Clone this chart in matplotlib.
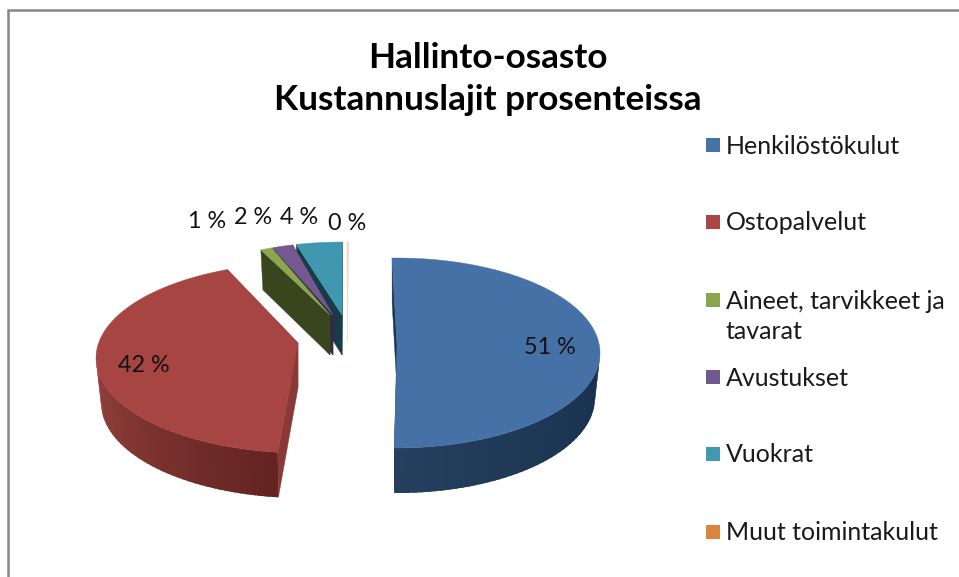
import numpy as np
import matplotlib
matplotlib.use('Agg')
import matplotlib.pyplot as plt
from matplotlib.colors import to_rgb
from matplotlib.patches import Polygon, Rectangle

plt.rcParams['font.family'] = ['Lato', 'DejaVu Sans']

# data
categories = ['Henkilöstökulut', 'Ostopalvelut', 'Aineet, tarvikkeet ja\ntavarat',
              'Avustukset', 'Vuokrat', 'Muut toimintakulut']
values = [50.6, 42.1, 0.9, 1.6, 3.6, 0.1]
title = 'Hallinto-osasto\nKustannuslajit prosenteissa'

# colours
top_colors = ['#4571a7', '#a64541', '#8ba84f', '#75588f', '#3f97b0', '#f6d9ba']
legend_colors = ['#4572a7', '#aa4643', '#89a54e', '#71588f', '#4198af', '#db843d']
cut_colors = ['#1c3450', '#8a3a36', '#38451d', '#352848', '#173b47', '#e6e2dc']
rim_from = ['#16304c', '#95423d', '#38451d', '#352848', '#173b47', '#e6e2dc']
rim_to = ['#263f5f', '#622321', '#38451d', '#352848', '#173b47', '#e6e2dc']

# pie layout in pixels, one entry per slice (exploded + perspective)
centers = [(397, 353), (303, 358), (343, 337), (343, 337), (343, 337), (347, 337)]
apexes = [(397, 345), (298, 343), (330, 315), (333, 315), (342, 315), (347.5, 315)]
radii = [(203, 95), (207, 95), (206, 95), (206, 95), (206, 95), (206, 95)]
starts = [-1.4, 187, 336.5, 340.1, 346.9, 0]
depths = [45, 45, 40, 40, 40, 27]
label_xy = [(550, 347), (144, 366), (207, 221), (253, 217), (299, 218), (347, 223)]
legend_y = [145, 222, 300, 377, 454, 532]
draw_order = [0, 1, 5, 4, 3, 2]
bottom_scale = 0.975


def arc_xy(i, ang):
    ang = np.radians(ang)
    return (centers[i][0] + radii[i][0] * np.sin(ang),
            centers[i][1] - radii[i][1] * np.cos(ang))


def lower(i, x, y):
    # same point on the underside of the slice, a bit narrower
    return centers[i][0] + (x - centers[i][0]) * bottom_scale, y + depths[i]


fig = plt.figure(figsize=(9.59, 5.77), dpi=100)
ax = fig.add_axes([0, 0, 1, 1])
ax.set_xlim(0, 959)
ax.set_ylim(577, 0)
ax.axis('off')

# chart frame, cut off by the screenshot on the right and at the bottom
ax.plot([8, 8, 959], [577, 10, 10], color='#868686', lw=1.8, solid_joinstyle='miter')

for i in draw_order:
    a0 = starts[i]
    a1 = a0 + values[i] * 3.6
    d = depths[i]
    apex = apexes[i]

    # cut faces
    for a in (a0, a1):
        x, y = arc_xy(i, a)
        ax.add_patch(Polygon([(x, y), lower(i, x, y), (apex[0], apex[1] + d), apex],
                             fc=cut_colors[i], ec=cut_colors[i], lw=0.3))

    # rim, only the part facing the viewer
    lo, hi = max(a0, 90), min(a1, 270)
    if hi > lo:
        angs = np.arange(lo, hi + 2, 2.0)
        angs[-1] = hi
        c0, c1 = np.array(to_rgb(rim_from[i])), np.array(to_rgb(rim_to[i]))
        if i != 0:
            angs = angs[::-1]
        for k in range(len(angs) - 1):
            t = (angs[k] - 90) / 90 if i == 0 else (270 - angs[k]) / 83
            col = c0 + (c1 - c0) * np.clip(t, 0, 1)
            # each strip runs on under the next one so no seams show
            step = 1.5 if i == 0 else -1.5
            end = np.clip(angs[k + 1] + step, lo, hi)
            seg = np.linspace(angs[k], end, 4)
            xs, ys = arc_xy(i, seg)
            up = list(zip(xs, ys))
            down = [lower(i, x, y) for x, y in up]
            ax.add_patch(Polygon(up + down[::-1], fc=col, ec='none'))

    # top face
    xs, ys = arc_xy(i, np.linspace(a0, a1, 120))
    pts = [apex] + list(zip(xs, ys))
    ax.add_patch(Polygon(pts, fc=top_colors[i], ec=top_colors[i], lw=0.3))

for v, (x, y) in zip(values, label_xy):
    ax.text(x, y, f'{round(v)} %', fontsize=16.8, color='#111111', ha='center', va='center')

ax.text(488, 79, title, fontsize=25.3, fontweight='bold', color='black',
        ha='center', va='center', linespacing=1.36)

for name, col, y in zip(categories, legend_colors, legend_y):
    ax.add_patch(Rectangle((706, y - 7), 14, 14, fc=col, ec='none'))
    ax.text(726, y + 1 + 15.5 * name.count('\n'), name, fontsize=18, color='#1a1a1a',
            ha='left', va='center', linespacing=1.34)

fig.savefig('out.png', dpi=100)
